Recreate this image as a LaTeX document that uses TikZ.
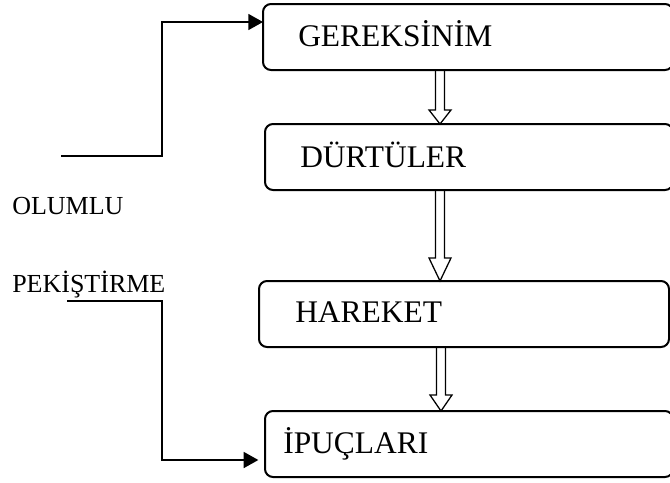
\documentclass[tikz,border=0pt]{standalone}
\usepackage{fontspec}
\setmainfont{Liberation Serif}
\usetikzlibrary{calc,arrows.meta}
\begin{document}
\begin{tikzpicture}[x=0.75pt,y=-0.75pt,
  box/.style={draw, line width=1.5pt, rounded corners=6pt, minimum height=49.5pt,
    inner sep=0pt, outer sep=0pt, anchor=north west},
  boxtext/.style={anchor=base west, inner sep=0pt, font=\fontsize{23.6}{28}\selectfont},
  sidetext/.style={anchor=base west, inner sep=0pt, font=\fontsize{19.5}{23}\selectfont},
  conn/.style={draw, line width=1.2pt, -{Triangle[length=11pt,width=12pt]}},
  blk/.style={draw, line width=0.95pt, to path={let \p1=(\tikztostart), \p2=(\tikztotarget) in
    (\x1-3.3pt,\y1) -- (\x1-3.3pt,\y2+#1) -- (\x1-8.25pt,\y2+#1) -- (\x1,\y2) --
    (\x1+8.25pt,\y2+#1) -- (\x1+3.3pt,\y2+#1) -- (\x1+3.3pt,\y1) -- cycle}}
]
\useasboundingbox (0,0) rectangle (670,482);

% boxes
\node[box, minimum width=307.5pt] (b1) at (263,4)   {};
\node[box, minimum width=306pt]   (b2) at (265,124) {};
\node[box, minimum width=307.5pt] (b3) at (259,281) {};
\node[box, minimum width=306pt]   (b4) at (265,411) {};

% box texts
\node[boxtext] (t1) at (298,46)  {GEREKSİNİM};
\node[boxtext] (t2) at (300,167) {DÜRTÜLER};
\node[boxtext] (t3) at (295,322) {HAREKET};
\node[boxtext] (t4) at (283,453) {İPUÇLARI};

% side texts
\node[sidetext] (olumlu) at (12,214) {OLUMLU};
\node[sidetext] (pek)    at (12,292) {PEKİŞTİRME};

% block arrows
\coordinate (ax) at (440,0);
\coordinate (ax3) at (441,0);
\draw[blk=10.5pt]  (b1.south -| ax)  to (b2.north -| ax);
\draw[blk=17.25pt] (b2.south -| ax)  to (b3.north -| ax);
\draw[blk=12pt]    (b3.south -| ax3) to (b4.north -| ax3);

% side connectors
\coordinate (s1) at (61,156);
\coordinate (s2) at (67,301);
\draw[conn] (s1) -- (162,156) -- (162,22) -- (b1.west |- 0,22);
\draw[conn, shorten >=5pt] (s2) -- (162,301) -- (162,460) -- (b4.west |- 0,460);
\end{tikzpicture}
\end{document}
